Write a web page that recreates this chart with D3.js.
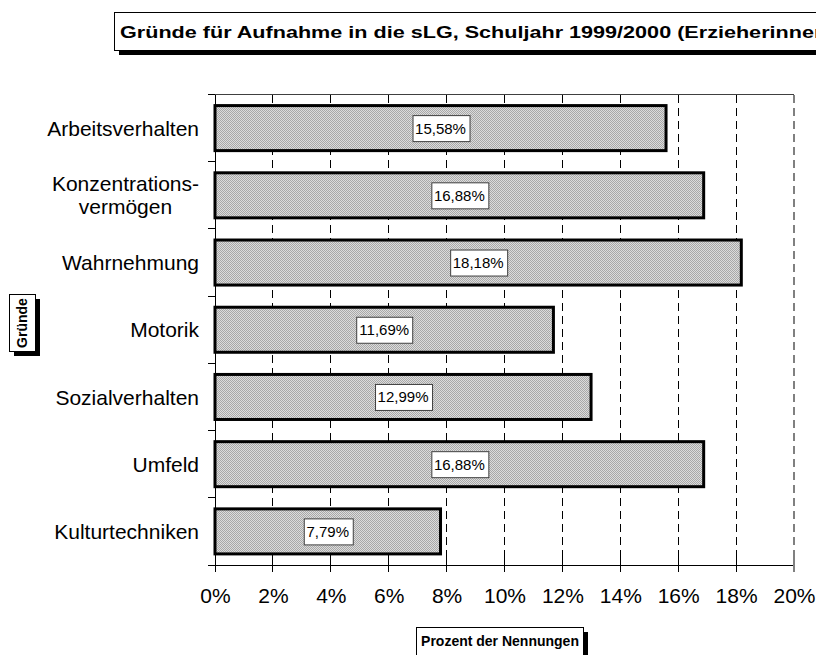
<!DOCTYPE html>
<html>
<head>
<meta charset="utf-8">
<script src="https://cdn.jsdelivr.net/npm/d3@7"></script>
<style>
  body { margin: 0; background: #fff; }
  svg { display: block; font-family: "Liberation Sans", Arial, sans-serif; }
</style>
</head>
<body>
<svg id="chart" width="816" height="655"></svg>
<script>
const categories = [["Arbeitsverhalten"], ["Konzentrations-", "vermögen"], ["Wahrnehmung"], ["Motorik"], ["Sozialverhalten"], ["Umfeld"], ["Kulturtechniken"]];
const values = [15.58, 16.88, 18.18, 11.69, 12.99, 16.88, 7.79];
const valueLabels = ["15,58%", "16,88%", "18,18%", "11,69%", "12,99%", "16,88%", "7,79%"];
const xTicks = [0, 2, 4, 6, 8, 10, 12, 14, 16, 18, 20];
const titleText = "Gründe für Aufnahme in die sLG, Schuljahr 1999/2000 (Erzieherinnen)";
const xTitle = "Prozent der Nennungen";
const yTitle = "Gründe";

(function () {
const svg = d3.select("#chart");
const pLeft = 215, pRight = 794, pTop = 94.5, pBottom = 565;

const keys = categories.map(c => c.join(" "));
const x = d3.scaleLinear().domain([0, 20]).range([pLeft, pRight]);
const y = d3.scaleBand().domain(keys).range([pTop, pBottom]).paddingInner(0.33).paddingOuter(0.165);
const step = y.step();

// pattern
const defs = svg.append("defs");
const pat = defs.append("pattern").attr("id", "dots").attr("patternUnits", "userSpaceOnUse")
  .attr("width", 2).attr("height", 2);
pat.append("rect").attr("width", 2).attr("height", 2).attr("fill", "#dcdcdc");
pat.append("rect").attr("width", 1).attr("height", 1).attr("fill", "#a8a8a8");
pat.append("rect").attr("x", 1).attr("y", 1).attr("width", 1).attr("height", 1).attr("fill", "#a8a8a8");

// gridlines
svg.append("g").selectAll("line").data(xTicks.filter(t => t > 0))
  .join("line")
  .attr("x1", d => x(d)).attr("x2", d => x(d))
  .attr("y1", pTop).attr("y2", pBottom)
  .attr("stroke", d => d === 20 ? "#808080" : "#000")
  .attr("stroke-width", d => d === 20 ? 2 : 1)
  .attr("stroke-dasharray", "8,5")
  .attr("shape-rendering", "crispEdges");

// top line
svg.append("line").attr("x1", pLeft - 7).attr("x2", pRight).attr("y1", pTop).attr("y2", pTop)
  .attr("stroke", "#404040").attr("stroke-width", 1).attr("shape-rendering", "crispEdges");

// x axis
const xAxis = d3.axisBottom(x).tickValues(xTicks).tickSize(0).tickFormat(d => d + "%");
const gx = svg.append("g").attr("transform", `translate(0,${pBottom})`).call(xAxis);
gx.select(".domain").remove();
gx.selectAll("text").attr("font-size", 21).attr("font-family", "Liberation Sans, Arial").attr("fill", "#000").attr("dy", 0).attr("y", 38);
svg.append("line").attr("x1", pLeft - 7).attr("x2", pRight).attr("y1", pBottom).attr("y2", pBottom)
  .attr("stroke", "#000").attr("shape-rendering", "crispEdges");
svg.append("g").selectAll("line").data(xTicks).join("line")
  .attr("x1", d => x(d)).attr("x2", d => x(d)).attr("y1", pBottom - 8).attr("y2", pBottom + 7)
  .attr("stroke", d => d === 20 ? "#808080" : "#000").attr("stroke-width", d => d === 20 ? 2 : 1)
  .attr("shape-rendering", "crispEdges");

// y axis
svg.append("line").attr("x1", pLeft).attr("x2", pLeft).attr("y1", pTop).attr("y2", pBottom)
  .attr("stroke", "#000").attr("shape-rendering", "crispEdges");
const bounds = d3.range(categories.length + 1).map(i => pTop + i * step);
svg.append("g").selectAll("line").data(bounds).join("line")
  .attr("x1", pLeft - 7).attr("x2", pLeft).attr("y1", d => d).attr("y2", d => d)
  .attr("stroke", "#000").attr("shape-rendering", "crispEdges");

// bars
svg.append("g").selectAll("rect").data(values).join("rect")
  .attr("x", x(0)).attr("y", (d, i) => y(keys[i]))
  .attr("width", d => x(d) - x(0)).attr("height", y.bandwidth())
  .attr("fill", "url(#dots)").attr("stroke", "#000").attr("stroke-width", 3);

// value labels
const vl = svg.append("g").selectAll("g").data(values).join("g")
  .attr("transform", (d, i) => `translate(${(x(0) + x(d)) / 2},${y(keys[i]) + y.bandwidth() / 2})`);
vl.each(function (d, i) {
  const g = d3.select(this);
  const r = g.append("rect").attr("fill", "#fff").attr("stroke", "#404040").attr("stroke-width", 1);
  const t = g.append("text").text(valueLabels[i]).attr("font-size", 15).attr("text-anchor", "middle")
    .attr("dy", "0.36em").attr("fill", "#000");
  const w = t.node().getComputedTextLength();
  r.attr("x", Math.round(-w / 2 - 3) + 0.5).attr("y", -12.5).attr("width", Math.round(w + 6)).attr("height", 26);
});

// category labels
const labX = 199;
categories.forEach((lines, i) => {
  const cy = y(keys[i]) + y.bandwidth() / 2;
  const lh = 23;
  const g = svg.append("g");
  const texts = lines.map((ln, j) => g.append("text").text(ln).attr("font-size", 21).attr("fill", "#000")
    .attr("y", cy + (j - (lines.length - 1) / 2) * lh).attr("dy", "0.36em"));
  const maxW = d3.max(texts, t => t.node().getComputedTextLength());
  texts.forEach(t => t.attr("x", labX - maxW / 2).attr("text-anchor", "middle"));
});

// boxes with shadow
function shadowBox(bx, by, bw, bh, off) {
  svg.append("rect").attr("x", bx + off).attr("y", by + off).attr("width", bw).attr("height", bh).attr("fill", "#000");
  svg.append("rect").attr("x", bx + 0.5).attr("y", by + 0.5).attr("width", bw).attr("height", bh)
    .attr("fill", "#fff").attr("stroke", "#000").attr("stroke-width", 1);
}
shadowBox(114, 12, 760, 38, 5);
svg.append("text").text(titleText).attr("transform", "translate(120,38) scale(1.35,1)")
  .attr("font-size", 16).attr("font-weight", "bold").attr("fill", "#000");

shadowBox(416, 627, 167, 28, 5);
svg.append("text").text(xTitle).attr("x", 500).attr("y", 646).attr("text-anchor", "middle")
  .attr("font-size", 14).attr("font-weight", "bold").attr("fill", "#000");

shadowBox(9, 294, 26, 57, 5);
svg.append("text").text(yTitle).attr("transform", "translate(27,323) rotate(-90)").attr("text-anchor", "middle")
  .attr("font-size", 14).attr("font-weight", "bold").attr("fill", "#000");
})();
</script>
</body>
</html>
